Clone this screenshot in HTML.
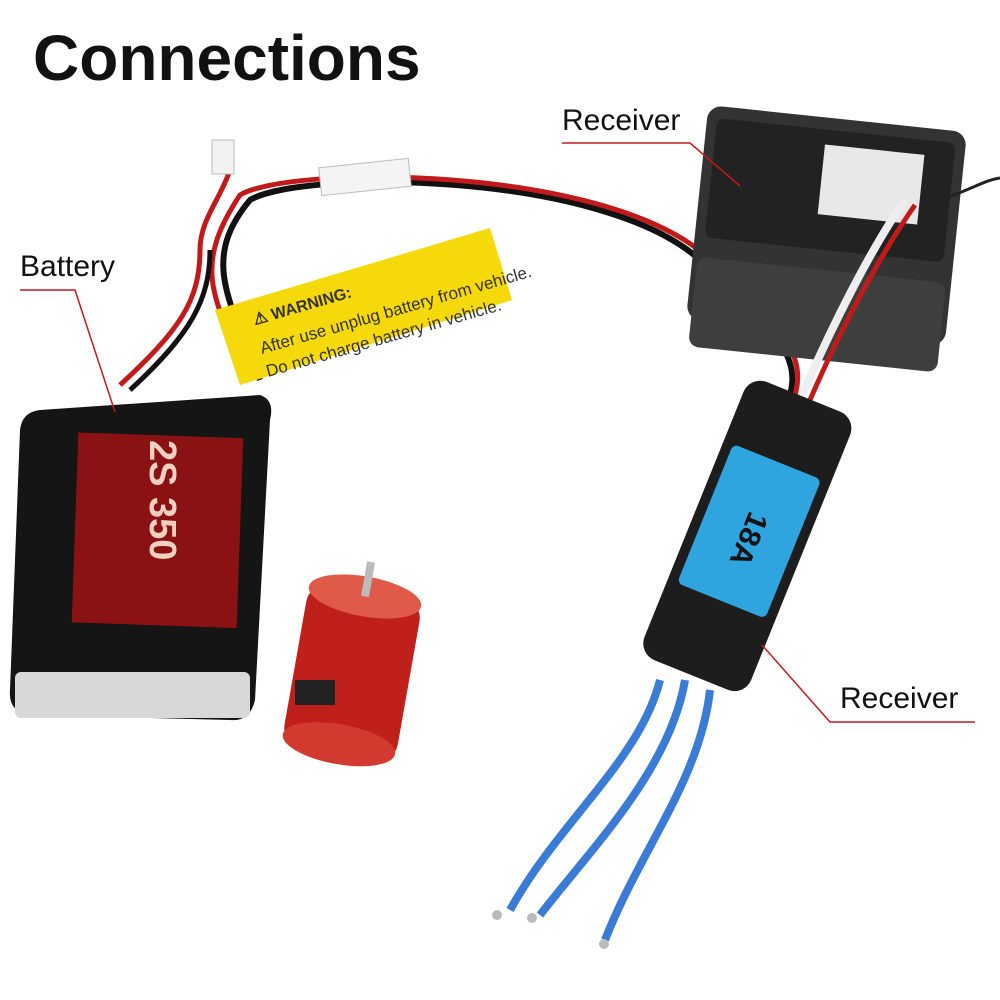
<!DOCTYPE html>
<html><head><meta charset="utf-8"><style>
html,body{margin:0;padding:0;background:#fff;width:1000px;height:1000px;overflow:hidden}
svg{display:block}
text{font-family:"Liberation Sans",sans-serif}
</style></head><body>
<svg width="1000" height="1000" viewBox="0 0 1000 1000" xmlns="http://www.w3.org/2000/svg">
<rect width="1000" height="1000" fill="#fff"/>
<text x="33" y="80" font-size="64" font-weight="bold" fill="#111">Connections</text>

<!-- wires top -->
<path d="M260 380 C230 300 200 260 250 200 C300 170 600 170 700 260 C780 330 800 360 790 395" fill="none" stroke="#111" stroke-width="6"/>
<path d="M250 380 C215 300 190 270 240 195 C290 165 600 165 705 255 C790 330 805 360 795 395" fill="none" stroke="#c21a1a" stroke-width="5"/>
<path d="M120 385 C180 330 200 300 200 250 C200 220 220 200 230 170" fill="none" stroke="#c21a1a" stroke-width="5"/>
<path d="M130 390 C190 335 210 300 210 250" fill="none" stroke="#111" stroke-width="5"/>
<rect x="212" y="140" width="22" height="34" fill="#f2f2f2" stroke="#bbb"/>
<rect x="320" y="163" width="90" height="28" fill="#f4f4f4" stroke="#bbb" transform="rotate(-6 365 177)"/>
<!-- receiver box -->
<g transform="rotate(6 825 240)">
<rect x="695" y="118" width="260" height="215" rx="14" fill="#333"/>
<rect x="705" y="130" width="240" height="120" rx="8" fill="#222"/>
<rect x="815" y="145" width="100" height="70" fill="#e8e8e8"/>
<rect x="700" y="270" width="250" height="90" rx="10" fill="#3e3e3e"/>
</g>
<path d="M940 200 C970 190 985 180 1000 178" stroke="#222" stroke-width="3" fill="none"/>
<path d="M905 200 C870 250 830 330 800 400" stroke="#eee" stroke-width="8" fill="none"/>
<path d="M915 205 C880 255 840 330 810 400" stroke="#c21a1a" stroke-width="5" fill="none"/>
<!-- warning label -->
<polygon points="215,310 490,228 512,300 240,385" fill="#f5d90a"/>
<text x="0" y="0" font-size="16" font-weight="bold" fill="#333" transform="translate(255,325) rotate(-16)">⚠ WARNING:</text>
<text x="0" y="0" font-size="17" fill="#333" transform="translate(262,354) rotate(-16)">After use unplug battery from vehicle.</text>
<text x="0" y="0" font-size="17" fill="#333" transform="translate(268,377) rotate(-16)">Do not charge battery in vehicle.</text>
<!-- battery -->
<path d="M40 410 L260 395 Q275 400 270 420 L255 700 Q250 722 230 720 L30 715 Q8 712 10 690 L20 430 Q22 412 40 410Z" fill="#151515"/>
<rect x="75" y="435" width="165" height="190" fill="#8a1212" transform="rotate(2 150 530)"/>
<text x="0" y="0" font-size="38" font-weight="bold" fill="#f0d0c0" transform="translate(150,440) rotate(90)">2S 350</text>
<rect x="15" y="672" width="235" height="46" rx="6" fill="#d8d8d8"/>
<!-- motor -->
<g transform="rotate(10 350 670)">
<rect x="295" y="590" width="115" height="165" rx="20" fill="#c0201c"/>
<ellipse cx="352" cy="745" rx="57" ry="20" fill="#d23a30"/>
<ellipse cx="352" cy="595" rx="57" ry="20" fill="#e05a4a"/>
<rect x="348" y="560" width="8" height="35" fill="#bbb"/>
</g>
<rect x="295" y="680" width="40" height="25" fill="#222"/>
<!-- ESC wires -->
<path d="M660 680 C640 760 560 820 510 910" stroke="#3a7bd5" stroke-width="8" fill="none"/>
<path d="M685 680 C670 770 590 850 540 915" stroke="#3a7bd5" stroke-width="8" fill="none"/>
<path d="M710 690 C700 780 640 850 605 940" stroke="#3a7bd5" stroke-width="8" fill="none"/>
<circle cx="497" cy="915" r="5" fill="#bbb"/><circle cx="532" cy="918" r="5" fill="#bbb"/><circle cx="604" cy="944" r="5" fill="#bbb"/>
<!-- ESC -->
<g transform="rotate(22 745 535)">
<rect x="690" y="385" width="115" height="300" rx="18" fill="#1d1d1d"/>
<rect x="700" y="455" width="95" height="150" rx="6" fill="#2fa5e0"/>
<text x="0" y="0" font-size="30" font-weight="bold" fill="#111" transform="translate(740,510) rotate(90)">18A</text>
</g>
<!-- labels & leaders -->
<g stroke="#c21a1a" stroke-width="1.5" fill="none">
<polyline points="20,290 75,290 115,412"/>
<polyline points="562,143 690,143 740,186"/>
<polyline points="975,722 830,722 762,645"/>
</g>
<text x="20" y="276" font-size="30" fill="#111">Battery</text>
<text x="562" y="130" font-size="30" fill="#111">Receiver</text>
<text x="840" y="708" font-size="30" fill="#111">Receiver</text>
</svg>
</body></html>
